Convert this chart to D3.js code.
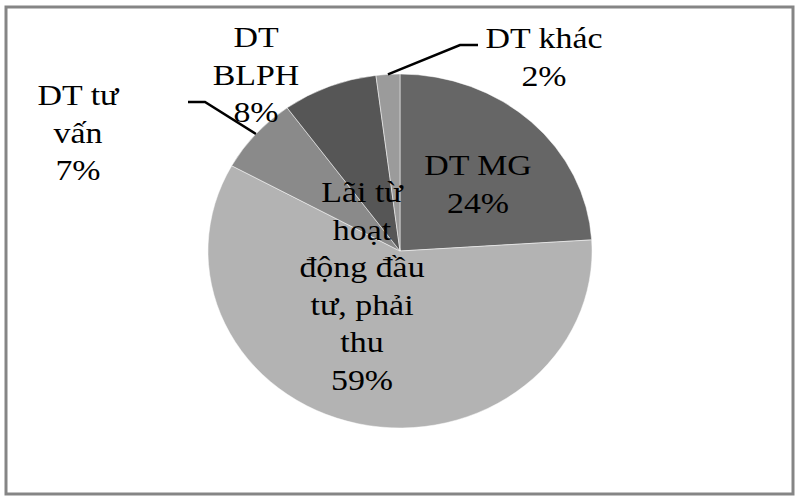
<!DOCTYPE html>
<html>
<head>
<meta charset="utf-8">
<script src="https://cdn.jsdelivr.net/npm/d3@7/dist/d3.min.js"></script>
<style>
  html, body { margin: 0; padding: 0; background: #fff; }
  svg { display: block; }
  text { font-family: "Liberation Serif", "Times New Roman", serif; fill: #000; }
</style>
</head>
<body>
<svg id="chart" width="800" height="500"></svg>
<script>
// ---- data ----
const categories = ["DT MG", "Lãi từ hoạt động đầu tư, phải thu", "DT tư vấn", "DT BLPH", "DT khác"];
const values = [24, 59, 7, 8, 2];
const labelLines = [
  ["DT MG", "24%"],
  ["Lãi từ", "hoạt", "động đầu", "tư, phải", "thu", "59%"],
  ["DT tư", "vấn", "7%"],
  ["DT", "BLPH", "8%"],
  ["DT khác", "2%"]
];
const colors = ["#666666", "#b3b3b3", "#8a8a8a", "#565656", "#9b9b9b"];

// ---- layout ----
const W = 800, H = 500;
const cx = 400, cy = 251, R = 177, sx = 1.085;
const fontSize = 30, lineH = 37.5, textScale = 1.13;
// label anchor (center x, first baseline y) and optional leader elbow/end
const labelLayout = [
  { x: 478, y: 175 },
  { x: 362, y: 202 },
  { x: 78,  y: 105, elbow: [205, 102], end: [188, 102] },
  { x: 256, y: 47 },
  { x: 544, y: 48,  elbow: [460, 45], end: [478, 45] }
];

const svg = d3.select("#chart");

// frame
svg.append("rect")
  .attr("x", 6).attr("y", 7).attr("width", 787).attr("height", 487)
  .attr("fill", "none").attr("stroke", "#858585").attr("stroke-width", 3);

const pieGen = d3.pie().sort(null).value(d => d)
  .startAngle(0).endAngle(2 * Math.PI);
const arcs = pieGen(values);
const arcGen = d3.arc().innerRadius(0).outerRadius(R);

const g = svg.append("g")
  .attr("transform", `translate(${cx},${cy}) scale(${sx},1)`);

g.selectAll("path.slice")
  .data(arcs)
  .join("path")
  .attr("class", "slice")
  .attr("d", arcGen)
  .attr("fill", (d, i) => colors[i])
  .attr("stroke", "#ffffff")
  .attr("stroke-opacity", 0.6)
  .attr("stroke-width", 0.8);

// leader lines
arcs.forEach((a, i) => {
  const L = labelLayout[i];
  if (!L.elbow) return;
  const mid = (a.startAngle + a.endAngle) / 2;
  const px = cx + sx * R * Math.sin(mid);
  const py = cy - R * Math.cos(mid);
  svg.append("polyline")
    .attr("points", `${px},${py} ${L.elbow[0]},${L.elbow[1]} ${L.end[0]},${L.end[1]}`)
    .attr("fill", "none").attr("stroke", "#000").attr("stroke-width", 2.5);
});

// labels
labelLines.forEach((lines, i) => {
  const L = labelLayout[i];
  lines.forEach((t, j) => {
    svg.append("text")
      .attr("transform", `translate(${L.x},${L.y + j * lineH}) scale(${textScale},1)`)
      .attr("text-anchor", "middle")
      .attr("font-size", fontSize)
      .text(t);
  });
});
</script>
</body>
</html>
